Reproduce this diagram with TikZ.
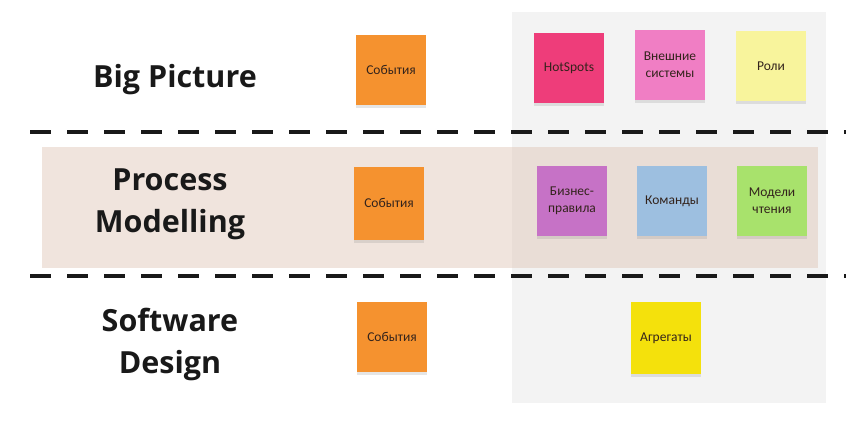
\documentclass[tikz,border=0pt]{standalone}
\usepackage{fontspec}
\setmainfont{Carlito}
\newfontfamily\labfont{Open Sans}
\usetikzlibrary{shadows}
\definecolor{orangeS}{HTML}{F5922F}
\definecolor{hotS}{HTML}{EE3D7A}
\definecolor{extS}{HTML}{F07EC4}
\definecolor{roleS}{HTML}{F8F49C}
\definecolor{ruleS}{HTML}{C672C6}
\definecolor{cmdS}{HTML}{9DBFE0}
\definecolor{readS}{HTML}{A8E26C}
\definecolor{aggS}{HTML}{F4E10C}
\definecolor{panel}{HTML}{F3F3F3}
\definecolor{band}{HTML}{F0E4DD}
\definecolor{bandpanel}{HTML}{E9DDD6}
\definecolor{stxt}{HTML}{33231C}
\tikzset{
  x=1pt, y=-1pt,
  sticky/.style={minimum width=70pt, minimum height=70pt, inner sep=1pt, align=center,
    font=\fontsize{13.5}{17}\selectfont, text=stxt,
    drop shadow={shadow xshift=0pt, shadow yshift=-3pt, opacity=0.2}},
  rowlabel/.style={font=\labfont\bfseries\fontsize{30.5}{42}\selectfont, text=black!90, align=center},
  sep/.style={line width=4.5pt, dash pattern=on 21pt off 16pt, black!90}
}
\begin{document}
\begin{tikzpicture}
\useasboundingbox (0,0) rectangle (846,439);
\fill[white] (0,0) rectangle (846,439);
% right panel
\fill[panel] (512,12) rectangle (826,403);
% process band
\fill[band] (42,147) rectangle (818,268);
\fill[bandpanel] (512,147) rectangle (818,268);
% separators
\coordinate (s1a) at (30,132);
\coordinate (s1b) at (846,132);
\coordinate (s2a) at (30,276);
\coordinate (s2b) at (846,276);
\draw[sep] (s1a) -- (s1b);
\draw[sep] (s2a) -- (s2b);
% row labels
\node[rowlabel] (bp) at (175,80) {Big Picture};
\node[rowlabel] (pm) at (170,204) {Process\\Modelling};
\node[rowlabel] (sd) at (170,344) {Software\\Design};
% big picture stickies
\node[sticky, fill=orangeS] (ev1) at (391,70) {События};
\node[sticky, fill=hotS] (hot) at (569,68) {HotSpots};
\node[sticky, fill=extS] (ext) at (670,65) {Внешние\\системы};
\node[sticky, fill=roleS] (rol) at (771,66) {Роли};
% process stickies
\node[sticky, fill=orangeS, minimum height=73pt] (ev2) at (389,203) {События};
\node[sticky, fill=ruleS] (rul) at (572,201) {Бизнес-\\правила};
\node[sticky, fill=cmdS] (cmd) at (672,201) {Команды};
\node[sticky, fill=readS] (rd) at (772,201) {Модели\\чтения};
% software stickies
\node[sticky, fill=orangeS] (ev3) at (392,337) {События};
\node[sticky, fill=aggS, minimum height=72pt] (agg) at (666,338) {Агрегаты};
\end{tikzpicture}
\end{document}
